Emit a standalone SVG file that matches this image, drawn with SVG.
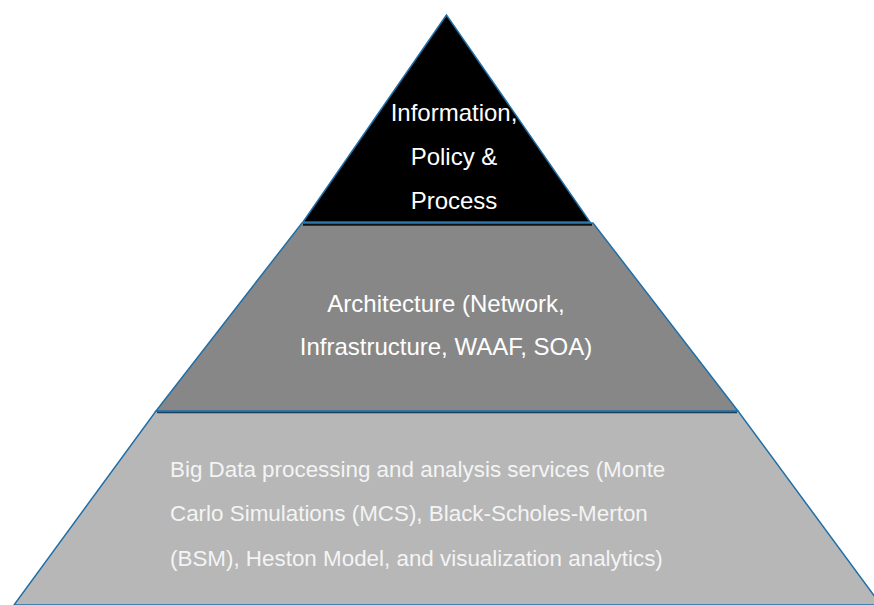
<svg xmlns="http://www.w3.org/2000/svg" width="874" height="605" viewBox="0 0 874 605">
<style>
.edge{stroke:#1f6fa8;stroke-width:1.5;stroke-linejoin:miter}
.t{font-family:"Liberation Sans",Arial,sans-serif;font-size:24px}
.s{font-size:22.4px}
</style>
<rect width="874" height="605" fill="#ffffff"/>
<g id="layer-bottom">
<polygon class="edge" points="156,411 738,411 881,605 14,605" fill="#b7b7b7"/>
<line x1="157" y1="412.5" x2="737" y2="412.5" stroke="#1a3f5c" stroke-width="1.5"/>
<text class="t s" fill="#f4f4f4" x="170" y="476.5">Big Data processing and analysis services (Monte</text>
<text class="t s" fill="#f4f4f4" x="170" y="521">Carlo Simulations (MCS), Black-Scholes-Merton</text>
<text class="t s" fill="#f4f4f4" x="170" y="565.5">(BSM), Heston Model, and visualization analytics)</text>
</g>
<g id="layer-middle">
<polygon class="edge" points="302,223 593,223 738,411 156,411" fill="#878787"/>
<line x1="303" y1="224.8" x2="592" y2="224.8" stroke="#111111" stroke-width="2"/>
<text class="t" fill="#ffffff" x="446" y="312.3" text-anchor="middle">Architecture (Network,</text>
<text class="t" fill="#ffffff" x="446" y="355" text-anchor="middle">Infrastructure, WAAF, SOA)</text>
</g>
<g id="layer-top">
<polygon class="edge" points="446.5,15 303,222 590,222" fill="#000000"/>
<text class="t" fill="#ffffff" x="454" y="120.7" text-anchor="middle">Information,</text>
<text class="t" fill="#ffffff" x="454" y="165" text-anchor="middle">Policy &amp;</text>
<text class="t" fill="#ffffff" x="454" y="208.5" text-anchor="middle">Process</text>
</g>
<g id="connectors"></g>
</svg>
